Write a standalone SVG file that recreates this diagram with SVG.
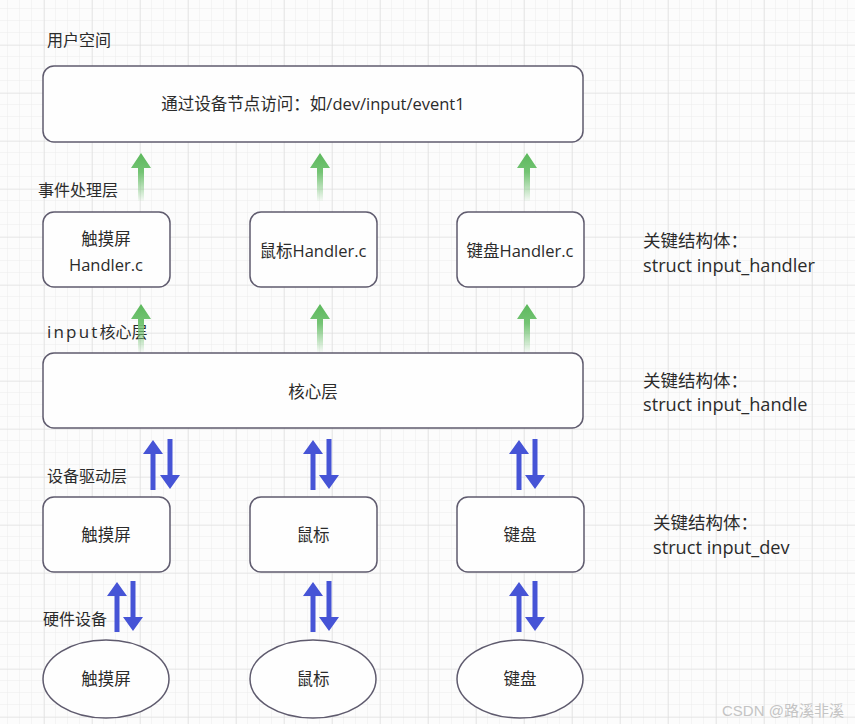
<svg xmlns="http://www.w3.org/2000/svg" width="855" height="724" viewBox="0 0 855 724">
<defs>
<pattern id="minor" x="44" y="45" width="12" height="12" patternUnits="userSpaceOnUse">
<path d="M12 0V12M0 12H12" fill="none" stroke="#ececec" stroke-width="1"/>
</pattern>
<pattern id="major" x="44" y="45" width="48" height="48" patternUnits="userSpaceOnUse">
<path d="M0 0V48M0 0H48" fill="none" stroke="#dedede" stroke-width="1.2"/>
</pattern>
<linearGradient id="gfade" x1="0" y1="0" x2="0" y2="1">
<stop offset="0" stop-color="#5cb85c"/>
<stop offset="0.4" stop-color="#74c474"/>
<stop offset="1" stop-color="#74c474" stop-opacity="0.05"/>
</linearGradient>
<path id="garrow" d="M0 0L10 15H3V48H-3V15H-10Z" fill="url(#gfade)"/>
<path id="barrow" d="M0 0L10 14H2.5V50H-2.5V14H-10Z" fill="#4654d6"/>
</defs>
<style>
.box{fill:#fefefe;stroke:#5f5b6e;stroke-width:1.5}
.t{font-family:"Open Sans","Noto Sans CJK SC",sans-serif;fill:#2b2b2b;font-size:16.5px}
.c{text-anchor:middle}
.lbl{font-size:16px}
.note{font-size:17.5px}
.code{font-size:18.2px}
.wm{font-family:"Liberation Sans","Noto Sans CJK SC",sans-serif;fill:#c4c4c4;font-size:15px}
</style>
<rect width="855" height="724" fill="#fcfcfc"/>
<rect width="855" height="724" fill="url(#minor)"/>
<rect width="855" height="724" fill="url(#major)"/>

<g id="labels">
<text class="t lbl" x="47" y="46">用户空间</text>
<text class="t lbl" x="38" y="196">事件处理层</text>
<text class="t lbl" x="47" y="338"><tspan font-size="17" letter-spacing="2.2">input</tspan>核心层</text>
<text class="t lbl" x="47" y="482">设备驱动层</text>
<text class="t lbl" x="43" y="625">硬件设备</text>
</g>

<g id="connectors">
<use href="#garrow" x="141" y="153"/>
<use href="#garrow" x="320" y="153"/>
<use href="#garrow" x="527" y="153"/>
<use href="#garrow" x="141" y="304"/>
<use href="#garrow" x="320" y="304"/>
<use href="#garrow" x="527" y="304"/>
<use href="#barrow" x="153" y="440"/>
<use href="#barrow" transform="translate(170 489) rotate(180)"/>
<use href="#barrow" x="313" y="440"/>
<use href="#barrow" transform="translate(329 489) rotate(180)"/>
<use href="#barrow" x="519" y="440"/>
<use href="#barrow" transform="translate(535 489) rotate(180)"/>
<use href="#barrow" x="117" y="582"/>
<use href="#barrow" transform="translate(133 631) rotate(180)"/>
<use href="#barrow" x="313" y="582"/>
<use href="#barrow" transform="translate(329 631) rotate(180)"/>
<use href="#barrow" x="519" y="582"/>
<use href="#barrow" transform="translate(535 631) rotate(180)"/>
</g>

<g id="user-space">
<rect class="box" x="43" y="66" width="540" height="76" rx="11"/>
<text class="t c" x="313" y="110">通过设备节点访问：如/dev/input/event1</text>
</g>

<g id="handler-touch">
<rect class="box" x="43" y="212" width="127" height="75" rx="11"/>
<text class="t c" x="106" y="245">触摸屏</text>
<text class="t c" x="106" y="271">Handler.c</text>
</g>
<g id="handler-mouse">
<rect class="box" x="250" y="212" width="127" height="75" rx="11"/>
<text class="t c" x="313" y="257">鼠标Handler.c</text>
</g>
<g id="handler-kbd">
<rect class="box" x="457" y="212" width="127" height="75" rx="11"/>
<text class="t c" x="520" y="257">键盘Handler.c</text>
</g>

<g id="core">
<rect class="box" x="43" y="353" width="540" height="75" rx="11"/>
<text class="t c" x="313" y="398">核心层</text>
</g>

<g id="drv-touch">
<rect class="box" x="43" y="497" width="127" height="75" rx="11"/>
<text class="t c" x="106" y="541">触摸屏</text>
</g>
<g id="drv-mouse">
<rect class="box" x="250" y="497" width="127" height="75" rx="11"/>
<text class="t c" x="313" y="541">鼠标</text>
</g>
<g id="drv-kbd">
<rect class="box" x="457" y="497" width="127" height="75" rx="11"/>
<text class="t c" x="520" y="541">键盘</text>
</g>

<g id="hw-touch">
<ellipse class="box" cx="106" cy="679" rx="63" ry="39"/>
<text class="t c" x="106" y="685">触摸屏</text>
</g>
<g id="hw-mouse">
<ellipse class="box" cx="313" cy="679" rx="63" ry="39"/>
<text class="t c" x="313" y="685">鼠标</text>
</g>
<g id="hw-kbd">
<ellipse class="box" cx="520" cy="679" rx="63" ry="39"/>
<text class="t c" x="520" y="685">键盘</text>
</g>

<g id="notes">
<text class="t note" x="643" y="247">关键结构体：</text>
<text class="t code" x="643" y="272">struct input_handler</text>
<text class="t note" x="643" y="387">关键结构体：</text>
<text class="t code" x="643" y="411">struct input_handle</text>
<text class="t note" x="653" y="529">关键结构体：</text>
<text class="t code" x="653" y="554">struct input_dev</text>
</g>
<text class="wm" x="722" y="716">CSDN @路溪非溪</text>
</svg>
